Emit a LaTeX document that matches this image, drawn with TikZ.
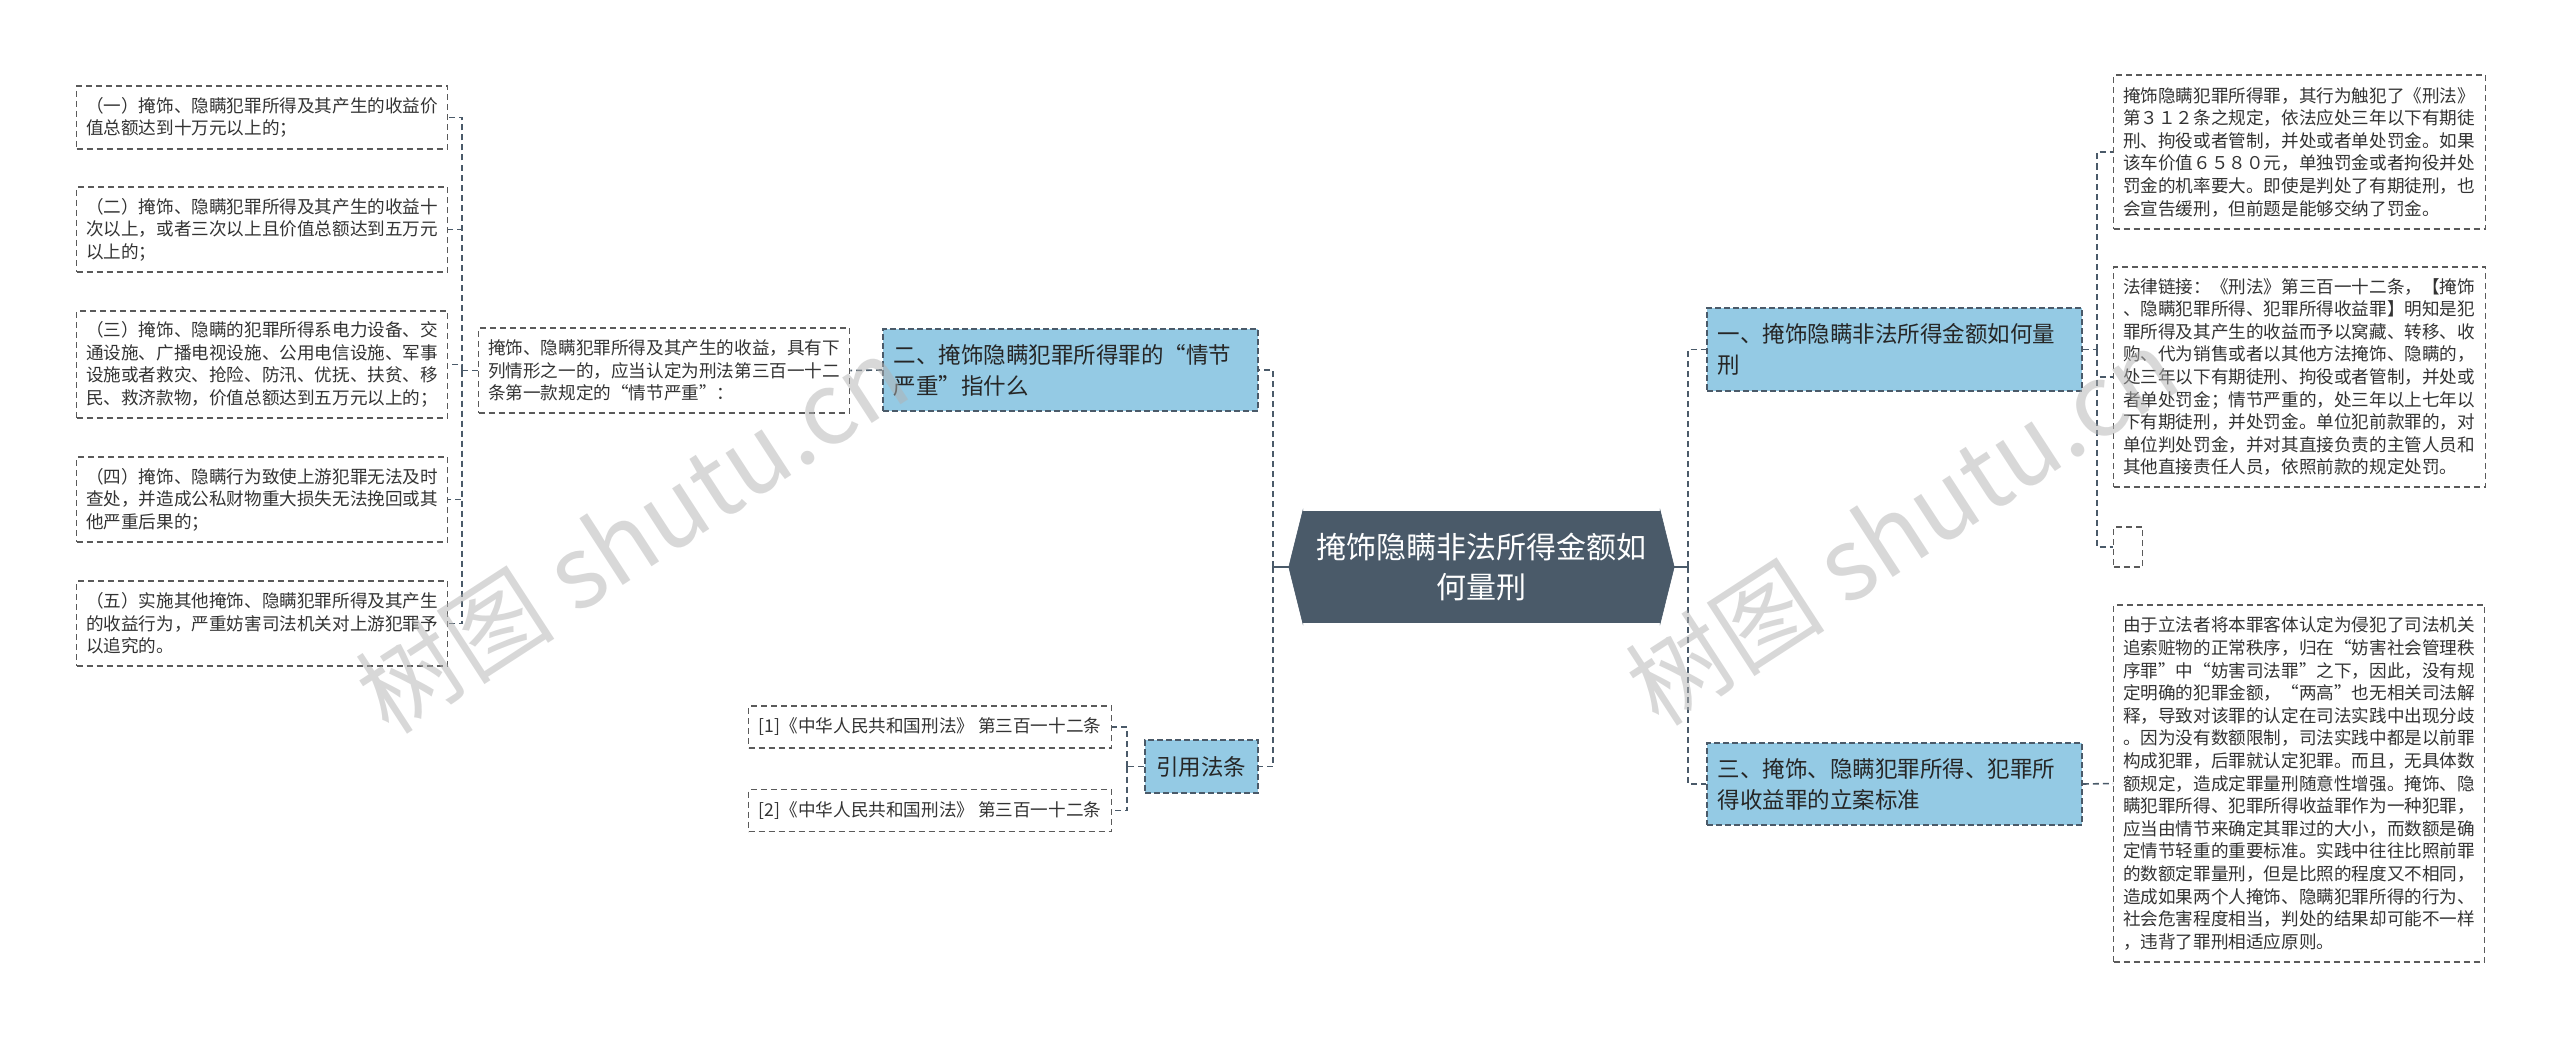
\documentclass[tikz,border=0pt]{standalone}
\usepackage{fontspec}
\setmainfont{Noto Sans CJK SC}
\usetikzlibrary{calc}
\definecolor{myblue}{RGB}{148,202,228}
\definecolor{myslate}{RGB}{74,90,105}
\definecolor{mygray}{RGB}{90,90,90}

\begin{document}
\begin{tikzpicture}[x=1pt,y=-1pt]

\tikzstyle{txt-b} = [draw=mygray, line width=1.3, dash pattern=on 6pt off 4pt, anchor=west,
align=left, text width=352pt, inner xsep=9.5pt, inner ysep=0pt, text=black!80,
font=\fontsize{17.6}{22.6}\selectfont]
\tikzstyle{ref-b} = [draw=mygray, line width=1.3, dash pattern=on 6pt off 4pt, anchor=west,
inner xsep=10pt, inner ysep=0pt, minimum width=363, minimum height=42, text=black!80,
font=\fontsize{17.6}{22.6}\selectfont]
\tikzstyle{empty-b} = [draw=mygray, line width=1.3, dash pattern=on 6pt off 4pt, anchor=west,
minimum width=29, minimum height=40, inner sep=0pt]
\tikzstyle{blue-b} = [draw=myslate, fill=myblue, line width=1.8, dash pattern=on 6pt off 3pt,
anchor=west, align=left, text width=353pt, inner xsep=11pt, inner ysep=0pt, minimum height=82,
text=black!85, font=\fontsize{22.5}{31}\selectfont]
\tikzstyle{root-b} = [fill=myslate, text=white, align=center, minimum width=357, minimum height=112,
inner sep=0pt, font=\fontsize{30}{40}\selectfont]
\tikzstyle{link} = [draw=myslate, line width=1.6, dash pattern=on 6pt off 4pt]
\tikzstyle{stub} = [draw=myslate, line width=1.6]
\tikzstyle{wm-b} = [text=black!30, text opacity=0.5, font=\fontsize{100}{110}\selectfont]

\useasboundingbox (0,0) rectangle (2560,1038);

% root
\node [root-b] (root) at (1481.5,567) {掩饰隐瞒非法所得金额如\\何量刑};
\coordinate (root-l) at ($(root.west)+(-14,0)$);
\coordinate (root-r) at ($(root.east)+(14,0)$);
\fill[myslate, draw=myslate, line width=0.6] (root.north west) -- (root-l) -- (root.south west) -- cycle;
\fill[myslate, draw=myslate, line width=0.6] (root.north east) -- (root-r) -- (root.south east) -- cycle;

% left branch
\node [blue-b] (n2) at (882,370) {二、掩饰隐瞒犯罪所得罪的“情节\\严重”指什么};
\node [txt-b, minimum height=85] (m) at (478,370.5) {掩饰、隐瞒犯罪所得及其产生的收益，具有下\\列情形之一的，应当认定为刑法第三百一十二\\条第一款规定的“情节严重”：};

\node [txt-b, minimum height=63] (l1) at (76,117.5) {（一）掩饰、隐瞒犯罪所得及其产生的收益价\\值总额达到十万元以上的；};
\node [txt-b, minimum height=85] (l2) at (76,229.5) {（二）掩饰、隐瞒犯罪所得及其产生的收益十\\次以上，或者三次以上且价值总额达到五万元\\以上的；};
\node [txt-b, minimum height=107] (l3) at (76,364.5) {（三）掩饰、隐瞒的犯罪所得系电力设备、交\\通设施、广播电视设施、公用电信设施、军事\\设施或者救灾、抢险、防汛、优抚、扶贫、移\\民、救济款物，价值总额达到五万元以上的；};
\node [txt-b, minimum height=85] (l4) at (76,499.5) {（四）掩饰、隐瞒行为致使上游犯罪无法及时\\查处，并造成公私财物重大损失无法挽回或其\\他严重后果的；};
\node [txt-b, minimum height=85] (l5) at (76,623.5) {（五）实施其他掩饰、隐瞒犯罪所得及其产生\\的收益行为，严重妨害司法机关对上游犯罪予\\以追究的。};

\node [blue-b, text width=, minimum width=113, minimum height=53] (cite) at (1144,766.5) {引用法条};
\node [ref-b] (r1) at (748,727) {[1]《中华人民共和国刑法》 第三百一十二条};
\node [ref-b] (r2) at (748,810.5) {[2]《中华人民共和国刑法》 第三百一十二条};

% right branch
\node [blue-b, minimum height=83] (n1) at (1706,349.5) {一、掩饰隐瞒非法所得金额如何量\\刑};
\node [blue-b] (n3) at (1706,784) {三、掩饰、隐瞒犯罪所得、犯罪所\\得收益罪的立案标准};

\node [txt-b, text width=353pt, minimum height=154] (rb1) at (2113,152) {掩饰隐瞒犯罪所得罪，其行为触犯了《刑法》\\第３１２条之规定，依法应处三年以下有期徒\\刑、拘役或者管制，并处或者单处罚金。如果\\该车价值６５８０元，单独罚金或者拘役并处\\罚金的机率要大。即使是判处了有期徒刑，也\\会宣告缓刑，但前题是能够交纳了罚金。};
\node [txt-b, text width=353pt, minimum height=220] (rb2) at (2113,377) {法律链接：《刑法》第三百一十二条，【掩饰\\、隐瞒犯罪所得、犯罪所得收益罪】明知是犯\\罪所得及其产生的收益而予以窝藏、转移、收\\购、代为销售或者以其他方法掩饰、隐瞒的，\\处三年以下有期徒刑、拘役或者管制，并处或\\者单处罚金；情节严重的，处三年以上七年以\\下有期徒刑，并处罚金。单位犯前款罪的，对\\单位判处罚金，并对其直接负责的主管人员和\\其他直接责任人员，依照前款的规定处罚。};
\node [empty-b] (rb3) at (2113,547) {};
\node [txt-b, text width=352pt, minimum height=357] (rb4) at (2113,783.5) {由于立法者将本罪客体认定为侵犯了司法机关\\追索赃物的正常秩序，归在“妨害社会管理秩\\序罪”中“妨害司法罪”之下，因此，没有规\\定明确的犯罪金额，“两高”也无相关司法解\\释，导致对该罪的认定在司法实践中出现分歧\\。因为没有数额限制，司法实践中都是以前罪\\构成犯罪，后罪就认定犯罪。而且，无具体数\\额规定，造成定罪量刑随意性增强。掩饰、隐\\瞒犯罪所得、犯罪所得收益罪作为一种犯罪，\\应当由情节来确定其罪过的大小，而数额是确\\定情节轻重的重要标准。实践中往往比照前罪\\的数额定罪量刑，但是比照的程度又不相同，\\造成如果两个人掩饰、隐瞒犯罪所得的行为、\\社会危害程度相当，判处的结果却可能不一样\\，违背了罪刑相适应原则。};

% connectors
\coordinate (jl) at (1273,567);
\coordinate (jr) at (1688,567);
\coordinate (jm) at (462,370.5);
\coordinate (jc) at (1127,766.5);
\coordinate (j1) at (2097,349.5);

\draw[stub] (root-l) -- (jl);
\draw[stub] (root-r) -- (jr);
\draw[link] (jl) |- (n2.east);
\draw[link] (jl) |- (cite.east);
\draw[link] (jr) |- (n1.west);
\draw[link] (jr) |- (n3.west);

\draw[link] (n2.west) -- (m.east);
\draw[link] (m.west) -- (jm);
\foreach \i in {1,...,5}
  \draw[link] (jm) |- (l\i.east);

\draw[link] (cite.west) -- (jc);
\draw[link] (jc) |- (r1.east);
\draw[link] (jc) |- (r2.east);

\draw[link] (n1.east) -- (j1);
\foreach \i in {1,2,3}
  \draw[link] (j1) |- (rb\i.west);
\draw[link] (n3.east) -- (rb4.west);

% watermark
\node [wm-b, rotate=33] (wm1) at (632,534) {树图 shutu.cn};
\node [wm-b, rotate=33] (wm2) at (1902,526) {树图 shutu.cn};

\end{tikzpicture}
\end{document}
